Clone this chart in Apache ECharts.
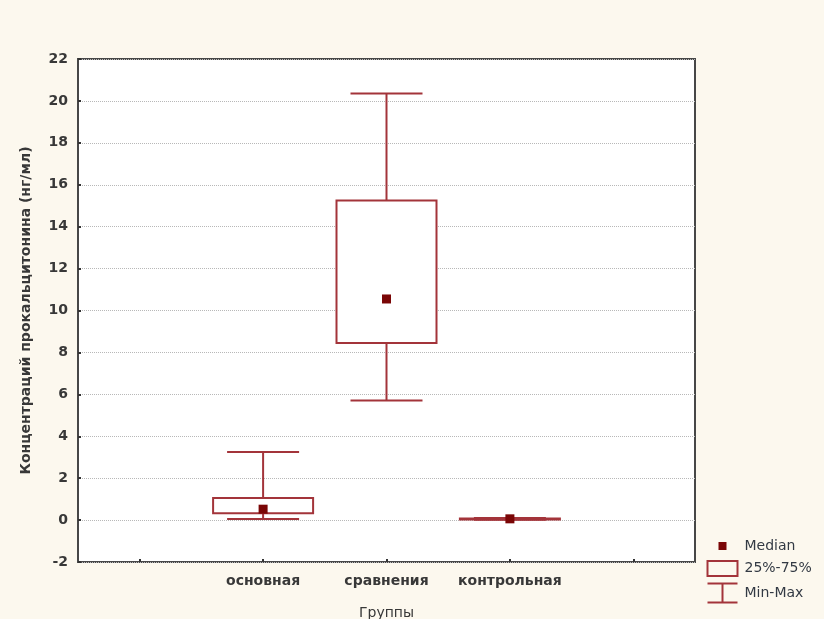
<!DOCTYPE html>
<html>
<head>
<meta charset="utf-8">
<script src="https://cdn.jsdelivr.net/npm/echarts@6/dist/echarts.min.js"></script>
<style>
  html, body { margin: 0; padding: 0; background: #fcf8ee; }
  #chart { width: 824px; height: 619px; }
</style>
</head>
<body>
<div id="chart"></div>
<script>
// groups shown on the x axis (empty slots at both ends)
const groupNames = ['основная', 'сравнения', 'контрольная']
const categories = [''].concat(groupNames, [' '])
const minValues = [0.05, 5.7, 0.02]
const q1Values = [0.33, 8.45, 0.04]
const medianValues = [0.52, 10.55, 0.06]
const q3Values = [1.05, 15.25, 0.08]
const maxValues = [3.25, 20.35, 0.1]
const yTicks = { min: -2, max: 22, step: 2 }

const lineColor = '#a3343a'
const medianColor = '#7a0606'
const textColor = '#383838'
const font = 'DejaVu Sans, sans-serif'

const boxData = groupNames.map((g, i) => [i + 1, minValues[i], q1Values[i], medianValues[i], q3Values[i], maxValues[i]])
const medianData = groupNames.map((g, i) => [i + 1, medianValues[i]])

const chart = echarts.init(document.getElementById('chart'))

chart.setOption({
  backgroundColor: '#fcf8ee',
  animation: false,
  textStyle: { fontFamily: font },
  grid: {
    left: 78,
    right: 129,
    top: 59,
    bottom: 57,
    outerBoundsMode: 'none',
    containLabel: false,
    show: true,
    backgroundColor: '#ffffff',
    borderColor: '#474747',
    borderWidth: 2
  },
  legend: {
    orient: 'vertical',
    left: 703,
    top: 536,
    height: 300,
    padding: 0,
    itemWidth: 34,
    itemHeight: 21,
    itemGap: 0,
    textStyle: { color: '#333a44', fontSize: 14, fontFamily: font, padding: [0, 0, 0, 0] },
    data: [
      {
        name: 'Median',
        icon: 'path://M0,0 M34,21 M13,6 h8 v8 h-8 Z',
        itemStyle: { color: medianColor, borderWidth: 0, opacity: 1 }
      },
      {
        name: '25%-75%',
        icon: 'path://M0,0 M34,21 M2,3 H32 V18 H2 Z',
        itemStyle: { color: '#fcf8ee', borderColor: lineColor, borderWidth: 2 }
      },
      {
        name: 'Min-Max',
        icon: 'path://M0,0 M34,21 M2,1 H32 M17,1 V20 M2,20 H32',
        itemStyle: { color: 'none', borderColor: lineColor, borderWidth: 2 }
      }
    ]
  },
  xAxis: {
    type: 'category',
    data: categories,
    boundaryGap: true,
    name: 'Группы',
    nameLocation: 'middle',
    nameGap: 44,
    nameTextStyle: { color: textColor, fontSize: 14 },
    axisLine: { show: false, onZero: false },
    axisTick: { show: true, inside: true, alignWithLabel: true, length: 3, lineStyle: { color: '#333', width: 2 } },
    axisLabel: { color: textColor, fontSize: 14, fontWeight: 'bold', margin: 12, interval: 0 },
    splitLine: { show: false }
  },
  yAxis: {
    type: 'value',
    min: yTicks.min,
    max: yTicks.max,
    interval: yTicks.step,
    name: 'Концентраций прокальцитонина (нг/мл)',
    nameLocation: 'middle',
    nameGap: 45,
    nameTextStyle: { color: textColor, fontSize: 14, fontWeight: 'bold' },
    axisLine: { show: false },
    axisTick: { show: true, inside: true, length: 3, lineStyle: { color: '#333', width: 2 } },
    axisLabel: { color: textColor, fontSize: 14, fontWeight: 'bold', margin: 10 },
    splitLine: { show: true, lineStyle: { color: '#b8b8b8', type: 'dotted', width: 1 } }
  },
  series: [
    {
      name: 'Min-Max',
      type: 'custom',
      itemStyle: { color: lineColor },
      data: boxData,
      z: 2,
      renderItem: function (params, api) {
        const idx = api.value(0)
        const top = api.coord([idx, api.value(5)])
        const q3 = api.coord([idx, api.value(4)])
        const q1 = api.coord([idx, api.value(2)])
        const bottom = api.coord([idx, api.value(1)])
        const half = 36
        const style = { stroke: lineColor, lineWidth: 2, fill: null }
        return {
          type: 'group',
          children: [
            { type: 'line', shape: { x1: top[0] - half, y1: top[1], x2: top[0] + half, y2: top[1] }, style: style },
            { type: 'line', shape: { x1: top[0], y1: top[1], x2: q3[0], y2: q3[1] }, style: style },
            { type: 'line', shape: { x1: q1[0], y1: q1[1], x2: bottom[0], y2: bottom[1] }, style: style },
            { type: 'line', shape: { x1: bottom[0] - half, y1: bottom[1], x2: bottom[0] + half, y2: bottom[1] }, style: style }
          ]
        }
      }
    },
    {
      name: '25%-75%',
      type: 'custom',
      itemStyle: { color: lineColor },
      data: boxData,
      z: 3,
      renderItem: function (params, api) {
        const idx = api.value(0)
        const q3 = api.coord([idx, api.value(4)])
        const q1 = api.coord([idx, api.value(2)])
        const half = 50
        return {
          type: 'rect',
          shape: { x: q3[0] - half, y: q3[1], width: half * 2, height: Math.max(q1[1] - q3[1], 1) },
          style: { stroke: lineColor, lineWidth: 2, fill: '#ffffff' }
        }
      }
    },
    {
      name: 'Median',
      type: 'scatter',
      symbol: 'rect',
      symbolSize: 9,
      itemStyle: { color: medianColor, opacity: 1 },
      data: medianData,
      z: 4
    }
  ]
})
</script>
</body>
</html>
